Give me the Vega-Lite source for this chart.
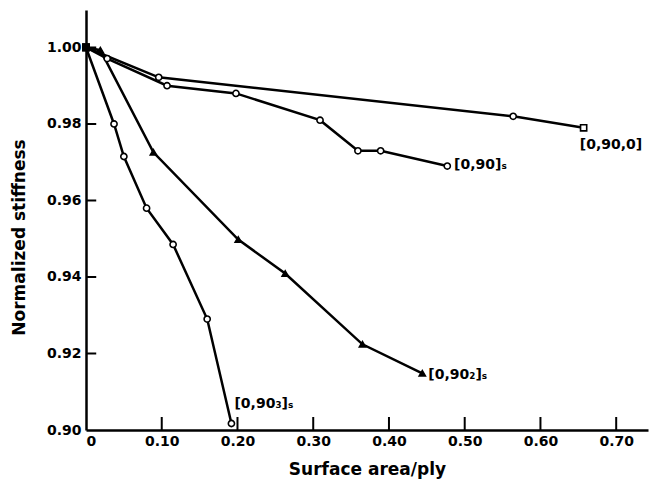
{
  "$schema": "https://vega.github.io/schema/vega-lite/v6.json",
  "width": 562,
  "height": 420,
  "autosize": {"type": "none"},
  "padding": {"left": 86, "top": 10, "right": 2, "bottom": 55},
  "background": "white",
  "config": {
    "view": {"stroke": null},
    "font": "DejaVu Sans",
    "axis": {
      "grid": false,
      "ticks": false,
      "domainColor": "black",
      "domainWidth": 2.5,
      "labelColor": "black",
      "titleColor": "black",
      "labelFont": "DejaVu Sans",
      "titleFont": "DejaVu Sans",
      "labelFontWeight": "bold",
      "titleFontWeight": "bold",
      "labelFontSize": 14,
      "titleFontSize": 17
    }
  },
  "datasets": {
    "pts": [
      {"series": "a", "x": 0, "y": 1.0, "shape": "square", "fill": "black"},
      {"series": "a", "x": 0.096, "y": 0.9922, "shape": "circle", "fill": "white"},
      {"series": "a", "x": 0.564, "y": 0.982, "shape": "circle", "fill": "white"},
      {"series": "a", "x": 0.657, "y": 0.979, "shape": "square", "fill": "white"},
      {"series": "b", "x": 0, "y": 1.0, "shape": "square", "fill": "black"},
      {"series": "b", "x": 0.028, "y": 0.9971, "shape": "circle", "fill": "white"},
      {"series": "b", "x": 0.107, "y": 0.990, "shape": "circle", "fill": "white"},
      {"series": "b", "x": 0.198, "y": 0.988, "shape": "circle", "fill": "white"},
      {"series": "b", "x": 0.309, "y": 0.981, "shape": "circle", "fill": "white"},
      {"series": "b", "x": 0.359, "y": 0.973, "shape": "circle", "fill": "white"},
      {"series": "b", "x": 0.389, "y": 0.973, "shape": "circle", "fill": "white"},
      {"series": "b", "x": 0.477, "y": 0.969, "shape": "circle", "fill": "white"},
      {"series": "c", "x": 0, "y": 1.0, "shape": "square", "fill": "black"},
      {"series": "c", "x": 0.019, "y": 0.9993, "shape": "triangle-up", "fill": "black"},
      {"series": "c", "x": 0.089, "y": 0.9726, "shape": "triangle-up", "fill": "black"},
      {"series": "c", "x": 0.201, "y": 0.9498, "shape": "triangle-up", "fill": "black"},
      {"series": "c", "x": 0.263, "y": 0.9409, "shape": "triangle-up", "fill": "black"},
      {"series": "c", "x": 0.365, "y": 0.9224, "shape": "triangle-up", "fill": "black"},
      {"series": "c", "x": 0.444, "y": 0.9148, "shape": "triangle-up", "fill": "black"},
      {"series": "d", "x": 0, "y": 1.0, "shape": "square", "fill": "black"},
      {"series": "d", "x": 0.037, "y": 0.980, "shape": "circle", "fill": "white"},
      {"series": "d", "x": 0.050, "y": 0.9715, "shape": "circle", "fill": "white"},
      {"series": "d", "x": 0.080, "y": 0.958, "shape": "circle", "fill": "white"},
      {"series": "d", "x": 0.115, "y": 0.9485, "shape": "circle", "fill": "white"},
      {"series": "d", "x": 0.160, "y": 0.929, "shape": "circle", "fill": "white"},
      {"series": "d", "x": 0.192, "y": 0.9017, "shape": "circle", "fill": "white"}
    ],
    "labels": [
      {"x": 0.652, "y": 0.9745, "label": "[0,90,0]"},
      {"x": 0.486, "y": 0.9692, "label": "[0,90]ₛ"},
      {"x": 0.452, "y": 0.9145, "label": "[0,90₂]ₛ"},
      {"x": 0.196, "y": 0.9068, "label": "[0,90₃]ₛ"}
    ]
  },
  "layer": [
    {
      "data": {"name": "pts"},
      "mark": {"type": "line", "color": "black", "strokeWidth": 2.5},
      "encoding": {
        "x": {
          "field": "x", "type": "quantitative",
          "scale": {"domain": [0, 0.742], "nice": false, "zero": false},
          "axis": {
            "title": "Surface area/ply",
            "values": [0, 0.1, 0.2, 0.3, 0.4, 0.5, 0.6, 0.7],
            "labelExpr": "datum.value == 0 ? '0' : format(datum.value, '.2f')",
            "labelPadding": 4,
            "titlePadding": 13
          }
        },
        "y": {
          "field": "y", "type": "quantitative",
          "scale": {"domain": [0.9, 1.0098], "nice": false, "zero": false},
          "axis": {
            "title": "Normalized stiffness",
            "values": [0.9, 0.92, 0.94, 0.96, 0.98, 1.0],
            "format": ".2f",
            "labelPadding": 5,
            "titlePadding": 18,
            "titleY": 227
          }
        },
        "detail": {"field": "series"},
        "order": {"field": "x"}
      }
    },
    {
      "data": {"values": [
        {"x": 0.1, "y": 0.9, "y2": 0.9034}, {"x": 0.2, "y": 0.9, "y2": 0.9034}, {"x": 0.3, "y": 0.9, "y2": 0.9034},
        {"x": 0.4, "y": 0.9, "y2": 0.9034}, {"x": 0.5, "y": 0.9, "y2": 0.9034}, {"x": 0.6, "y": 0.9, "y2": 0.9034},
        {"x": 0.7, "y": 0.9, "y2": 0.9034}
      ]},
      "mark": {"type": "rule", "color": "black", "strokeWidth": 2},
      "encoding": {
        "x": {"field": "x", "type": "quantitative"},
        "y": {"field": "y", "type": "quantitative"},
        "y2": {"field": "y2"}
      }
    },
    {
      "data": {"values": [
        {"x": 0, "x2": 0.0135, "y": 0.92}, {"x": 0, "x2": 0.0135, "y": 0.94}, {"x": 0, "x2": 0.0135, "y": 0.96},
        {"x": 0, "x2": 0.0135, "y": 0.98}, {"x": 0, "x2": 0.0135, "y": 1.0}
      ]},
      "mark": {"type": "rule", "color": "black", "strokeWidth": 2},
      "encoding": {
        "x": {"field": "x", "type": "quantitative"},
        "x2": {"field": "x2"},
        "y": {"field": "y", "type": "quantitative"}
      }
    },
    {
      "data": {"name": "pts"},
      "mark": {"type": "point", "stroke": "black", "strokeWidth": 1.6, "size": 38, "opacity": 1},
      "encoding": {
        "x": {"field": "x", "type": "quantitative"},
        "y": {"field": "y", "type": "quantitative"},
        "shape": {"field": "shape", "type": "nominal", "scale": null},
        "fill": {"field": "fill", "type": "nominal", "scale": null}
      }
    },
    {
      "data": {"name": "labels"},
      "mark": {"type": "text", "align": "left", "baseline": "middle", "fontSize": 14, "fontWeight": "bold", "font": "DejaVu Sans", "color": "black"},
      "encoding": {
        "x": {"field": "x", "type": "quantitative"},
        "y": {"field": "y", "type": "quantitative"},
        "text": {"field": "label"}
      }
    }
  ]
}
